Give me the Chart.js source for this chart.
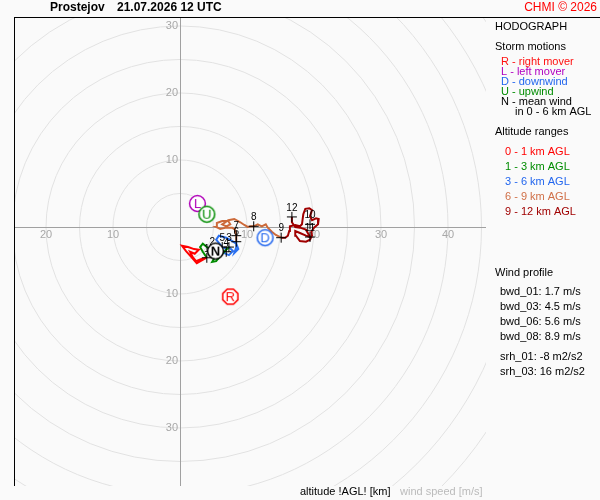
<!DOCTYPE html>
<html>
<head>
<meta charset="utf-8">
<script src="https://cdn.jsdelivr.net/npm/chart.js@4.4.1/dist/chart.umd.min.js"></script>
<style>
  body { margin: 0; background: #fafafa; }
  canvas { display: block; }
</style>
</head>
<body>
<canvas id="hodo" width="600" height="500"></canvas>
<script>
'use strict';

// hodograph traces, u / v wind components in m/s
let redU = [3.9, 2.5, 1.8, 0.9, 0.3, 1.2, 2.1, 2.8, 2.2, 1.5, 1.9, 2.4, 3.1, 4.0];
let redV = [-4.6, -5.4, -4.6, -3.6, -2.8, -3.0, -3.3, -3.4, -4.0, -3.7, -4.5, -5.1, -4.8, -4.6];

let greenU = [4.0, 3.4, 3.0, 3.4, 4.0, 4.8, 5.2, 4.8, 5.4, 6.0, 6.6, 7.3];
let greenV = [-4.6, -3.7, -3.0, -2.5, -3.0, -3.6, -4.5, -5.2, -5.1, -4.3, -3.7, -3.0];

let blueU = [7.3, 7.9, 7.3, 6.6, 6.9, 6.3, 5.4, 5.8, 6.9, 7.8, 8.4, 8.7, 8.1, 8.4, 8.4];
let blueV = [-3.0, -3.6, -4.2, -3.9, -3.3, -3.0, -1.9, -1.3, -1.6, -2.1, -2.5, -3.3, -3.9, -3.0, -2.2];

let brownU = [8.4, 8.4, 8.2, 7.8, 6.9, 6.0, 5.4, 5.5, 6.3, 7.2, 7.5, 6.9, 6.3, 7.2, 8.1, 9.0, 9.6, 10.1, 10.6, 11.0, 11.6, 12.2, 12.8, 13.1, 13.7, 14.3, 15.1];
let brownV = [-2.2, -1.3, -0.4, -0.1, -0.1, -0.3, 0.0, 0.6, 0.9, 0.9, 0.4, 0.1, 0.4, 1.0, 1.2, 0.7, 0.3, 0.0, 0.1, 0.1, 0.4, 0.1, 0.4, -0.1, -0.7, -1.2, -1.6];

let darkU = [15.1, 15.7, 16.1, 16.3, 16.4, 17.2, 17.9, 18.2, 18.4, 18.7, 19.3, 19.7, 19.4, 19.7, 20.3, 20.7, 20.6, 20.0, 19.6, 19.7, 19.4, 18.8, 17.9, 17.3, 17.2, 17.9, 18.8, 19.4, 18.8, 17.9, 17.2, 16.7, 16.7];
let darkV = [-1.6, -1.6, -1.3, -0.6, 0.1, 0.3, 0.1, 0.4, 1.9, 2.7, 2.8, 2.5, 1.6, 1.0, 1.3, 1.2, 0.4, -0.1, -0.7, -1.3, -1.9, -2.2, -2.1, -1.3, -0.6, -0.9, -1.3, -1.5, -0.4, -0.1, 0.0, 0.7, 1.5];

// altitude marks (km AGL)
let altLabels = ['1', '2', '3', '4', '5', '6', '7', '8', '9', '10', '11', '12'];
let altU = [4.0, 4.8, 7.3, 6.9, 6.3, 8.4, 8.4, 11.0, 15.1, 19.4, 19.4, 16.7];
let altV = [-4.6, -3.6, -3.0, -3.7, -3.0, -2.2, -1.3, 0.1, -1.6, 0.4, -1.5, 1.5];

// storm motions
let motionNames = ['R', 'L', 'D', 'U', 'N'];
let motionU = [7.5, 2.6, 12.7, 4.0, 5.3];
let motionV = [-10.4, 3.5, -1.6, 1.9, -3.6];
let motionColors = ['#ff0000', '#b000b8', '#2266ee', '#008c00', '#000000'];

// speed rings and their labels
let ringSpeeds = [5, 10, 15, 20, 25, 30, 35, 40, 45, 50, 55, 60];
let xTickValues = [-20, -10, 10, 20, 30, 40];
let yTickValues = [30, 20, 10, -10, -20, -30];

let stormLegend = [
  ['R - right mover', '#ff1010'],
  ['L - left mover', '#b000c0'],
  ['D - downwind', '#2266ee'],
  ['U - upwind', '#008c00'],
  ['N - mean wind', '#000000'],
];
let altLegend = [
  ['0 - 1 km AGL', '#ff0000'],
  ['1 - 3 km AGL', '#008c00'],
  ['3 - 6 km AGL', '#2266ee'],
  ['6 - 9 km AGL', '#d07048'],
  ['9 - 12 km AGL', '#a00000'],
];
let profileLines = ['bwd_01: 1.7 m/s', 'bwd_03: 4.5 m/s', 'bwd_06: 5.6 m/s', 'bwd_08: 8.9 m/s'];
let srhLines = ['srh_01: -8 m2/s2', 'srh_03: 16 m2/s2'];

const FONT = '"Liberation Sans", Arial, sans-serif';

function points(u, v) {
  return u.map((x, i) => ({ x: x, y: v[i] }));
}

function makeMarker(letter, color) {
  let c = document.createElement('canvas');
  c.width = 21;
  c.height = 21;
  let g = c.getContext('2d');
  g.fillStyle = '#ffffff';
  g.strokeStyle = color;
  g.lineWidth = 1.5;
  g.beginPath();
  if (letter === 'R') {
    for (let i = 0; i < 8; i++) {
      let a = Math.PI / 8 + i * Math.PI / 4;
      let px = 10.5 + 8.2 * Math.cos(a);
      let py = 10.5 + 8.2 * Math.sin(a);
      if (i === 0) g.moveTo(px, py);
      else g.lineTo(px, py);
    }
    g.closePath();
  } else {
    g.arc(10.5, 10.5, 7.9, 0, Math.PI * 2);
  }
  g.fill();
  g.stroke();
  g.fillStyle = color;
  g.font = (letter === 'N' ? 'bold ' : '') + '13px ' + FONT;
  g.textAlign = 'center';
  g.textBaseline = 'middle';
  g.fillText(letter, 10.5, 11);
  return c;
}

function traceSet(u, v, color) {
  return {
    data: points(u, v),
    showLine: true,
    borderColor: color,
    borderWidth: 2,
    pointRadius: 0,
    tension: 0,
    order: 2,
  };
}

const framePlugin = {
  id: 'frame',
  beforeDatasetsDraw(chart) {
    let ctx = chart.ctx;
    let area = chart.chartArea;
    let xs = chart.scales.x;
    let ys = chart.scales.y;
    let cx = xs.getPixelForValue(0);
    let cy = ys.getPixelForValue(0);

    ctx.save();
    ctx.beginPath();
    ctx.rect(area.left, area.top, area.right - area.left, area.bottom - area.top);
    ctx.clip();

    ctx.strokeStyle = '#e2e2e2';
    ctx.lineWidth = 1;
    ringSpeeds.forEach(s => {
      let r = xs.getPixelForValue(s) - cx;
      ctx.beginPath();
      ctx.arc(cx, cy, r, 0, Math.PI * 2);
      ctx.stroke();
    });

    ctx.strokeStyle = '#a0a0a0';
    ctx.beginPath();
    ctx.moveTo(area.left, Math.round(cy) + 0.5);
    ctx.lineTo(area.right, Math.round(cy) + 0.5);
    ctx.moveTo(Math.round(cx) + 0.5, area.top);
    ctx.lineTo(Math.round(cx) + 0.5, area.bottom);
    ctx.stroke();

    ctx.fillStyle = '#a8a8a8';
    ctx.font = '11px ' + FONT;
    ctx.textAlign = 'center';
    ctx.textBaseline = 'middle';
    xTickValues.forEach(t => {
      ctx.fillText(String(Math.abs(t)), xs.getPixelForValue(t), cy + 8);
    });
    ctx.textAlign = 'right';
    yTickValues.forEach(t => {
      ctx.fillText(String(Math.abs(t)), cx - 2, ys.getPixelForValue(t));
    });
    ctx.restore();
  },
  afterDatasetDraw(chart, args) {
    if (args.index !== 1) return;
    let ctx = chart.ctx;
    ctx.save();
    ctx.fillStyle = '#000000';
    ctx.font = '10px ' + FONT;
    ctx.textAlign = 'center';
    ctx.textBaseline = 'middle';
    args.meta.data.forEach((el, i) => {
      ctx.fillText(altLabels[i], el.x, el.y - 9);
    });
    ctx.restore();
  },
  afterDraw(chart) {
    let ctx = chart.ctx;
    let area = chart.chartArea;
    ctx.save();

    // frame lines
    ctx.strokeStyle = '#000000';
    ctx.lineWidth = 1;
    ctx.beginPath();
    ctx.moveTo(area.left - 0.5, area.top);
    ctx.lineTo(area.left - 0.5, area.bottom);
    ctx.moveTo(area.left - 1, area.top - 0.5);
    ctx.lineTo(600, area.top - 0.5);
    ctx.stroke();

    ctx.textBaseline = 'middle';
    ctx.textAlign = 'left';
    ctx.fillStyle = '#000000';
    ctx.font = 'bold 12px ' + FONT;
    ctx.fillText('Prostejov', 50, 8);
    ctx.fillText('21.07.2026 12 UTC', 117, 8);
    ctx.fillStyle = '#ff0000';
    ctx.font = '12px ' + FONT;
    ctx.textAlign = 'right';
    ctx.fillText('CHMI \u00a9 2026', 597, 8);

    ctx.textAlign = 'left';
    ctx.font = '11px ' + FONT;
    ctx.fillStyle = '#000000';
    ctx.fillText('HODOGRAPH', 495, 27);
    ctx.fillText('Storm motions', 495, 47);
    stormLegend.forEach((s, i) => {
      ctx.fillStyle = s[1];
      ctx.fillText(s[0], 501, 62 + i * 10);
    });
    ctx.fillStyle = '#000000';
    ctx.fillText('in 0 - 6 km AGL', 515, 112);
    ctx.fillText('Altitude ranges', 495, 132);
    altLegend.forEach((s, i) => {
      ctx.fillStyle = s[1];
      ctx.fillText(s[0], 505, 152 + i * 15);
    });

    ctx.fillStyle = '#000000';
    ctx.fillText('Wind profile', 495, 273);
    profileLines.forEach((s, i) => {
      ctx.fillText(s, 500, 292 + i * 15);
    });
    srhLines.forEach((s, i) => {
      ctx.fillText(s, 500, 357 + i * 15);
    });

    ctx.fillText('altitude !AGL! [km]', 300, 492);
    ctx.fillStyle = '#bbbbbb';
    ctx.fillText('wind speed [m/s]', 400, 492);
    ctx.restore();
  },
};

let markerImages = motionNames.map((n, i) => makeMarker(n, motionColors[i]));

const config = {
  type: 'scatter',
  data: {
    datasets: [
      {
        data: points(motionU, motionV),
        pointStyle: markerImages,
        pointRadius: 8,
        order: 0,
      },
      {
        data: points(altU, altV),
        pointStyle: 'cross',
        pointRadius: 5,
        borderColor: '#000000',
        borderWidth: 1,
        order: 1,
      },
      traceSet(redU, redV, '#ff0000'),
      traceSet(greenU, greenV, '#008c00'),
      traceSet(blueU, blueV, '#2a70f0'),
      traceSet(brownU, brownV, '#cc6a3a'),
      traceSet(darkU, darkV, '#a00000'),
    ],
  },
  options: {
    responsive: false,
    animation: false,
    layout: { padding: { left: 15, top: 18, right: 114, bottom: 14 } },
    scales: {
      x: { type: 'linear', display: false, min: -24.63, max: 45.67 },
      y: { type: 'linear', display: false, min: -38.66, max: 31.19 },
    },
    plugins: {
      legend: { display: false },
      tooltip: { enabled: false },
    },
  },
  plugins: [framePlugin],
};

let hodoCanvas = document.getElementById('hodo').getContext('2d');
const hodoChart = new Chart(hodoCanvas, config);
</script>
</body>
</html>
